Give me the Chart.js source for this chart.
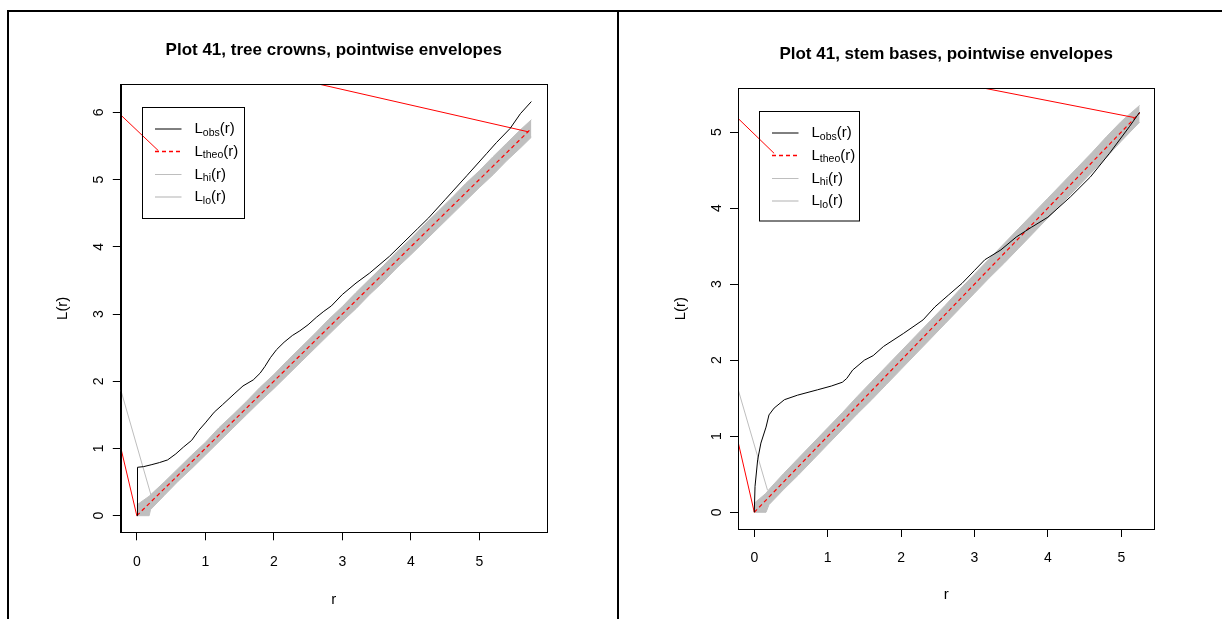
<!DOCTYPE html>
<html>
<head>
<meta charset="utf-8">
<title>Plot 41 – L-function envelopes</title>
<script src="https://cdn.jsdelivr.net/npm/chart.js@4.4.1/dist/chart.umd.min.js"></script>
<style>
  html, body { margin: 0; padding: 0; background: #fff; }
  #page { position: relative; width: 1222px; height: 619px; overflow: hidden; }
  canvas { position: absolute; }
  .rule { position: absolute; background: #000; }
</style>
</head>
<body>
<div id="page">
  <canvas id="crowns" width="608" height="607" style="left:9px;top:12px"></canvas>
  <canvas id="stems" width="602" height="607" style="left:620px;top:12px"></canvas>
  <div class="rule" style="left:7px;top:10px;width:1215px;height:2px"></div>
  <div class="rule" style="left:7px;top:10px;width:2px;height:609px"></div>
  <div class="rule" style="left:617px;top:10px;width:2px;height:609px"></div>
</div>
<script>
/* two spatstat-style envelope plots, L(r) */

// --- tree crowns ---
const CROWN_X_RANGE = [-0.234, 5.984];
const CROWN_Y_RANGE = [-0.247, 6.417];
const CROWN_X_TICKS = [0, 1, 2, 3, 4, 5];
const CROWN_Y_TICKS = [0, 1, 2, 3, 4, 5, 6];
const CROWN_OBS_R = [0, 0.01, 0.01, 0.1, 0.22, 0.33, 0.45, 0.57, 0.68, 0.8, 0.905, 1.0, 1.13, 1.25, 1.42, 1.55, 1.7, 1.8, 1.87, 1.95, 2.04, 2.15, 2.27, 2.38, 2.5, 2.62, 2.73, 2.84, 3.0, 3.2, 3.4, 3.69, 3.9, 4.1, 4.26, 4.5, 4.82, 5.11, 5.25, 5.45, 5.6, 5.76];
const CROWN_OBS_L = [0, 0, 0.72, 0.73, 0.76, 0.79, 0.83, 0.92, 1.02, 1.12, 1.27, 1.38, 1.54, 1.65, 1.81, 1.93, 2.02, 2.12, 2.22, 2.35, 2.47, 2.58, 2.68, 2.75, 2.84, 2.95, 3.04, 3.12, 3.29, 3.46, 3.61, 3.86, 4.07, 4.27, 4.43, 4.70, 5.06, 5.39, 5.55, 5.76, 5.98, 6.16];
const CROWN_THEO_R = [0, 5.75];
const CROWN_THEO_L = [0, 5.75];
const CROWN_BAND_R = [0, 0.18, 0.2, 0.4, 0.6, 0.8, 1.0, 1.2, 1.4, 1.6, 1.8, 2.0, 2.2, 2.4, 2.6, 2.8, 3.0, 3.2, 3.4, 3.6, 3.8, 4.0, 4.2, 4.4, 4.6, 4.8, 5.0, 5.2, 5.4, 5.6, 5.76];
const CROWN_HI = [0.16, 0.29, 0.31, 0.50, 0.70, 0.90, 1.09, 1.31, 1.50, 1.70, 1.91, 2.10, 2.31, 2.51, 2.71, 2.92, 3.11, 3.32, 3.52, 3.72, 3.93, 4.12, 4.33, 4.53, 4.73, 4.94, 5.13, 5.34, 5.54, 5.74, 5.89];
const CROWN_LO = [0, 0, 0.09, 0.30, 0.51, 0.70, 0.90, 1.10, 1.30, 1.50, 1.70, 1.89, 2.09, 2.29, 2.49, 2.69, 2.89, 3.08, 3.29, 3.48, 3.69, 3.88, 4.08, 4.28, 4.48, 4.68, 4.88, 5.07, 5.28, 5.47, 5.63];
const CROWN_RED_SEGMENTS = [
  [[-0.234, 5.96], [0.314, 5.43]],
  [[5.716, 5.71], [2.67, 6.417]],
  [[-0.234, 1.01], [0, 0]],
];
const CROWN_GREY_SEGMENTS = [
  [[-0.234, 1.87], [0.22, 0.26]],
];

// --- stem bases ---
const STEM_X_RANGE = [-0.222, 5.45];
const STEM_Y_RANGE = [-0.22, 5.575];
const STEM_X_TICKS = [0, 1, 2, 3, 4, 5];
const STEM_Y_TICKS = [0, 1, 2, 3, 4, 5];
const STEM_OBS_R = [0, 0.01, 0.046, 0.09, 0.16, 0.2, 0.27, 0.41, 0.59, 0.86, 1.05, 1.2, 1.26, 1.34, 1.5, 1.62, 1.76, 2.03, 2.3, 2.46, 2.65, 2.83, 3.0, 3.14, 3.36, 3.57, 3.78, 4.0, 4.31, 4.58, 4.84, 5.11, 5.25];
const STEM_OBS_L = [0, 0.34, 0.69, 0.91, 1.12, 1.28, 1.37, 1.48, 1.54, 1.61, 1.66, 1.71, 1.76, 1.87, 2.0, 2.06, 2.18, 2.35, 2.53, 2.70, 2.86, 3.01, 3.18, 3.32, 3.45, 3.62, 3.75, 3.88, 4.15, 4.41, 4.72, 5.07, 5.26];
const STEM_THEO_R = [0, 5.25];
const STEM_THEO_L = [0, 5.25];
const STEM_BAND_R = [0, 0.16, 0.2, 0.4, 0.6, 0.8, 1.0, 1.2, 1.4, 1.6, 1.8, 2.0, 2.2, 2.4, 2.6, 2.8, 3.0, 3.2, 3.4, 3.6, 3.8, 4.0, 4.2, 4.4, 4.6, 4.8, 5.0, 5.25];
const STEM_HI = [0.12, 0.25, 0.30, 0.51, 0.71, 0.91, 1.11, 1.31, 1.52, 1.72, 1.92, 2.12, 2.32, 2.52, 2.72, 2.93, 3.13, 3.33, 3.53, 3.73, 3.93, 4.13, 4.33, 4.53, 4.73, 4.94, 5.14, 5.35];
const STEM_LO = [0, 0, 0.10, 0.30, 0.49, 0.69, 0.89, 1.09, 1.29, 1.48, 1.68, 1.88, 2.08, 2.28, 2.48, 2.68, 2.88, 3.08, 3.27, 3.47, 3.67, 3.87, 4.07, 4.27, 4.47, 4.67, 4.88, 5.13];
const STEM_RED_SEGMENTS = [
  [[-0.222, 5.18], [0.27, 4.72]],
  [[5.18, 5.19], [3.14, 5.575]],
  [[-0.222, 0.93], [0, 0]],
];
const STEM_GREY_SEGMENTS = [
  [[-0.222, 1.62], [0.18, 0.29]],
];

const LEGEND_ROWS = [
  { sub: "obs", color: "#000", width: 1, dash: [] },
  { sub: "theo", color: "#ff0000", width: 1.3, dash: [4, 3] },
  { sub: "hi", color: "#bebebe", width: 1, dash: [] },
  { sub: "lo", color: "#d8d8d8", width: 2, dash: [] },
];

const FONT = '"Liberation Sans", Arial, Helvetica, sans-serif';
Chart.defaults.font.family = FONT;
Chart.defaults.color = "#000";

const pts = (xs, ys) => xs.map((x, i) => ({ x: x, y: ys[i] }));

// box, title and legend in R style
const rDecor = {
  id: "rDecor",
  afterDatasetsDraw(chart, args, opts) {
    const { ctx, chartArea: a } = chart;
    ctx.save();
    ctx.strokeStyle = "#000";
    ctx.lineWidth = 1;
    ctx.strokeRect(Math.round(a.left) + 0.5, Math.round(a.top) + 0.5,
      Math.round(a.right - a.left), Math.round(a.bottom - a.top));

    ctx.fillStyle = "#000";
    ctx.font = "bold 17px " + FONT;
    ctx.textAlign = "center";
    ctx.textBaseline = "middle";
    ctx.fillText(opts.title, (a.left + a.right) / 2, a.top - 34.3);

    // legend
    const lx = Math.round(a.left + 21) + 0.5;
    const ly = Math.round(a.top + 22.6) + 0.5;
    ctx.strokeRect(lx, ly, opts.legendW, opts.legendH);
    const rowY = [21.5, 44, 67, 89.5];
    LEGEND_ROWS.forEach((row, i) => {
      const y = ly + rowY[i];
      ctx.beginPath();
      ctx.strokeStyle = row.color;
      ctx.lineWidth = row.width;
      ctx.setLineDash(row.dash);
      ctx.moveTo(lx + 12.5, y);
      ctx.lineTo(lx + 39, y);
      ctx.stroke();
      ctx.setLineDash([]);

      let x = lx + 52;
      ctx.textAlign = "left";
      ctx.textBaseline = "middle";
      ctx.fillStyle = "#000";
      ctx.font = "15px " + FONT;
      ctx.fillText("L", x, y);
      x += ctx.measureText("L").width;
      ctx.font = "10.5px " + FONT;
      ctx.fillText(row.sub, x, y + 4);
      x += ctx.measureText(row.sub).width;
      ctx.font = "15px " + FONT;
      ctx.fillText("(r)", x, y);
    });
    ctx.restore();
  },
};

function rPanel(id, o) {
  const canvas = document.getElementById(id);
  const H = canvas.height;
  const W = canvas.width;
  const segs = (list, color, order) => list.map((s) => ({
    data: s.map((p) => ({ x: p[0], y: p[1] })),
    borderColor: color, borderWidth: 1, pointRadius: 0, fill: false, order: order,
  }));

  const datasets = [
    { data: pts(o.bandR, o.hi), borderColor: "#bfbfbf", backgroundColor: "#bfbfbf",
      borderWidth: 1, pointRadius: 0, fill: "+1", order: 10 },
    { data: pts(o.bandR, o.lo), borderColor: "#bfbfbf", borderWidth: 1, pointRadius: 0, fill: false, order: 9 },
    ...segs(o.grey, "#bebebe", 5),
    ...segs(o.red, "#ff0000", 4),
    { data: pts(o.theoR, o.theoL), borderColor: "#ff0000", borderWidth: 1.2, borderDash: [4, 3],
      pointRadius: 0, fill: false, order: 2 },
    { data: pts(o.obsR, o.obsL), borderColor: "#000", borderWidth: 1, pointRadius: 0, fill: false, order: 1 },
  ];

  const axisCommon = {
    type: "linear",
    grid: { display: true, drawOnChartArea: false, drawTicks: true, tickLength: 8, color: "#000" },
    border: { display: true, color: "#000" },
  };

  return new Chart(canvas, {
    type: "line",
    data: { datasets: datasets },
    options: {
      responsive: false,
      animation: false,
      events: [],
      layout: { padding: { left: 0, top: o.area.top, right: W - o.area.right, bottom: 0 } },
      elements: { line: { tension: 0 } },
      plugins: {
        legend: { display: false },
        tooltip: { enabled: false },
        rDecor: { title: o.title, legendW: o.legendW, legendH: o.legendH },
      },
      scales: {
        x: Object.assign({}, axisCommon, {
          min: o.xRange[0], max: o.xRange[1],
          afterBuildTicks: (s) => { s.ticks = o.xTicks.map((v) => ({ value: v })); },
          afterFit: (s) => { s.height = H - o.area.bottom; },
          ticks: { font: { size: 14 }, padding: 13, maxRotation: 0 },
          title: { display: true, text: "r", font: { size: 15 }, padding: { top: 0, bottom: o.xTitlePad } },
        }),
        y: Object.assign({}, axisCommon, {
          min: o.yRange[0], max: o.yRange[1],
          afterBuildTicks: (s) => { s.ticks = o.yTicks.map((v) => ({ value: v })); },
          afterFit: (s) => { s.width = o.area.left; },
          ticks: { font: { size: 14 }, padding: 9.4, minRotation: 90, maxRotation: 90, crossAlign: "center" },
          title: { display: true, text: "L(r)", font: { size: 15 }, padding: { top: o.yTitlePad, bottom: 0 } },
        }),
      },
    },
    plugins: [rDecor],
  });
}

rPanel("crowns", {
  title: "Plot 41, tree crowns, pointwise envelopes",
  area: { left: 111.8, right: 537.7, top: 72.3, bottom: 520.3 },
  xRange: CROWN_X_RANGE, yRange: CROWN_Y_RANGE,
  xTicks: CROWN_X_TICKS, yTicks: CROWN_Y_TICKS,
  obsR: CROWN_OBS_R, obsL: CROWN_OBS_L,
  theoR: CROWN_THEO_R, theoL: CROWN_THEO_L,
  bandR: CROWN_BAND_R, hi: CROWN_HI, lo: CROWN_LO,
  red: CROWN_RED_SEGMENTS, grey: CROWN_GREY_SEGMENTS,
  legendW: 102, legendH: 111,
  xTitlePad: 10, yTitlePad: 44.4,
});

rPanel("stems", {
  title: "Plot 41, stem bases, pointwise envelopes",
  area: { left: 118, right: 534.3, top: 76.3, bottom: 517 },
  xRange: STEM_X_RANGE, yRange: STEM_Y_RANGE,
  xTicks: STEM_X_TICKS, yTicks: STEM_Y_TICKS,
  obsR: STEM_OBS_R, obsL: STEM_OBS_L,
  theoR: STEM_THEO_R, theoL: STEM_THEO_L,
  bandR: STEM_BAND_R, hi: STEM_HI, lo: STEM_LO,
  red: STEM_RED_SEGMENTS, grey: STEM_GREY_SEGMENTS,
  legendW: 100, legendH: 109.5,
  xTitlePad: 15, yTitlePad: 52,
});
</script>
</body>
</html>
